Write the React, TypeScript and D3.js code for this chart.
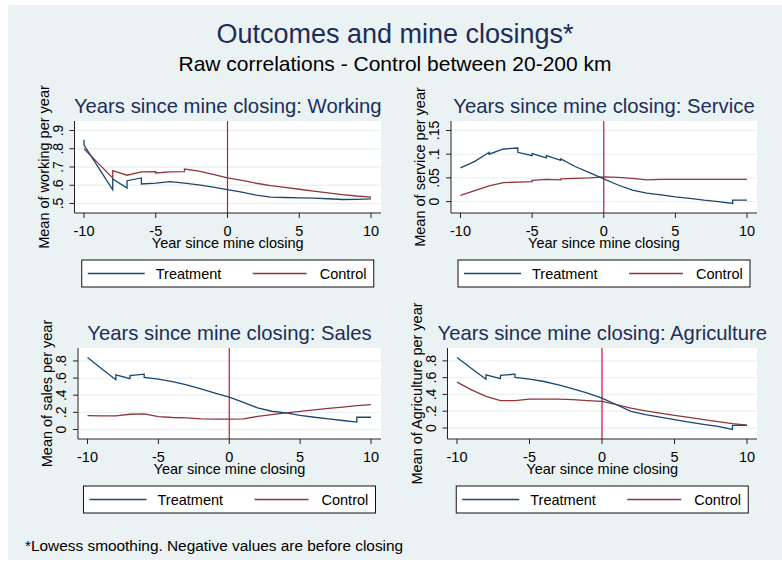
import * as d3 from 'd3';

// Lowess-smoothed means: [year since closing, value]
const years = [-10, -5, 0, 5, 10];

const workingTreatment: [number, number][] = [
  [-10, 0.85], [-10, 0.82], [-9, 0.698], [-8, 0.575], [-8, 0.635], [-7, 0.585], [-7, 0.625],
  [-6, 0.64], [-6, 0.607], [-5, 0.612], [-4, 0.62], [-3, 0.612], [-2, 0.602], [-1, 0.59],
  [0, 0.576], [1, 0.562], [2, 0.546], [3, 0.535], [4, 0.533], [5, 0.531], [6, 0.529],
  [7, 0.526], [8, 0.522], [9, 0.523], [10, 0.525],
];
const workingControl: [number, number][] = [
  [-10, 0.8], [-9, 0.72], [-8, 0.64], [-8, 0.68], [-7, 0.655], [-6, 0.673], [-5, 0.675],
  [-5, 0.667], [-4, 0.673], [-3, 0.675], [-3, 0.689], [-2, 0.677], [-1, 0.66], [0, 0.641],
  [1, 0.627], [2, 0.611], [3, 0.598], [4, 0.588], [5, 0.578], [6, 0.568], [7, 0.558],
  [8, 0.549], [9, 0.541], [10, 0.535],
];

const serviceTreatment: [number, number][] = [
  [-10, 0.071], [-9, 0.085], [-8, 0.104], [-8, 0.1], [-7, 0.111], [-6, 0.113], [-6, 0.104],
  [-5, 0.097], [-5, 0.101], [-4, 0.092], [-4, 0.097], [-3, 0.087], [-3, 0.09], [-2, 0.074],
  [-1, 0.061], [0, 0.048], [1, 0.035], [2, 0.024], [3, 0.018], [4, 0.014], [5, 0.01],
  [6, 0.007], [7, 0.003], [8, 0.0], [9, -0.004], [9, 0.003], [10, 0.003],
];
const serviceControl: [number, number][] = [
  [-10, 0.013], [-9, 0.023], [-8, 0.033], [-7, 0.04], [-6, 0.041], [-5, 0.042], [-5, 0.045],
  [-4, 0.047], [-3, 0.046], [-3, 0.048], [-2, 0.049], [-1, 0.05], [0, 0.052], [1, 0.051],
  [2, 0.049], [3, 0.046], [4, 0.047], [5, 0.047], [6, 0.047], [7, 0.047], [8, 0.047],
  [9, 0.047], [10, 0.047],
];

const salesTreatment: [number, number][] = [
  [-10, 0.84], [-9, 0.71], [-8, 0.58], [-8, 0.638], [-7, 0.593], [-7, 0.628], [-6, 0.645],
  [-6, 0.607], [-5, 0.587], [-4, 0.558], [-3, 0.522], [-2, 0.475], [-1, 0.425], [0, 0.378],
  [1, 0.317], [2, 0.252], [3, 0.213], [4, 0.193], [5, 0.164], [6, 0.143], [7, 0.124],
  [8, 0.105], [9, 0.087], [9, 0.143], [10, 0.143],
];
const salesControl: [number, number][] = [
  [-10, 0.162], [-9, 0.158], [-8, 0.16], [-7, 0.178], [-6, 0.182], [-5, 0.15], [-4, 0.14],
  [-3, 0.135], [-2, 0.124], [-1, 0.122], [0, 0.122], [1, 0.124], [2, 0.152], [3, 0.173],
  [4, 0.193], [5, 0.212], [6, 0.23], [7, 0.246], [8, 0.262], [9, 0.278], [10, 0.29],
];

const agriTreatment: [number, number][] = [
  [-10, 0.84], [-9, 0.71], [-8, 0.58], [-8, 0.634], [-7, 0.588], [-7, 0.626], [-6, 0.642],
  [-6, 0.602], [-5, 0.582], [-4, 0.554], [-3, 0.515], [-2, 0.467], [-1, 0.416], [0, 0.356],
  [1, 0.277], [2, 0.198], [3, 0.158], [4, 0.129], [5, 0.099], [6, 0.071], [7, 0.044],
  [8, 0.018], [9, -0.018], [9, 0.032], [10, 0.032],
];
const agriControl: [number, number][] = [
  [-10, 0.547], [-9, 0.455], [-8, 0.376], [-7, 0.325], [-6, 0.327], [-5, 0.343], [-4, 0.345],
  [-3, 0.345], [-2, 0.338], [-1, 0.326], [0, 0.317], [1, 0.278], [2, 0.238], [3, 0.205],
  [4, 0.178], [5, 0.151], [6, 0.126], [7, 0.1], [8, 0.075], [9, 0.051], [10, 0.033],
];

const workingTicks = [0.5, 0.6, 0.7, 0.8, 0.9];
const serviceTicks = [0, 0.05, 0.1, 0.15];
const shareTicks = [0, 0.2, 0.4, 0.6, 0.8];

const panels = [
  { title: 'Years since mine closing: Working', yLabel: 'Mean of working per year', treat: workingTreatment, ctrl: workingControl, ticks: workingTicks },
  { title: 'Years since mine closing: Service', yLabel: 'Mean of service per year', treat: serviceTreatment, ctrl: serviceControl, ticks: serviceTicks },
  { title: 'Years since mine closing: Sales', yLabel: 'Mean of sales per year', treat: salesTreatment, ctrl: salesControl, ticks: shareTicks },
  { title: 'Years since mine closing: Agriculture', yLabel: 'Mean of Agriculture per year', treat: agriTreatment, ctrl: agriControl, ticks: shareTicks },
];

// plot region boxes for the 2x2 grid
const boxes = [
  { left: 74.5, top: 121, right: 381, bottom: 213 },
  { left: 451, top: 121, right: 757, bottom: 213 },
  { left: 78, top: 348, right: 381, bottom: 439 },
  { left: 447.5, top: 348, right: 757, bottom: 439 },
];

const FONT = '"Liberation Sans", Arial, Helvetica, sans-serif';
const BG = '#eaf2f3';
const NAVY = '#1a476f';
const MAROON = '#90353b';
const TITLE = '#1c2d5a';

const fmt = (d: number) => (d === 0 ? '0' : d3.format('~g')(d).replace(/^0\./, '.'));

function Panel({ p, b }: { p: typeof panels[0]; b: typeof boxes[0] }) {
  const all = [...p.treat, ...p.ctrl].map(d => d[1]);
  const lo = Math.min(p.ticks[0], d3.min(all)!);
  const hi = Math.max(p.ticks[p.ticks.length - 1], d3.max(all)!);

  const x = d3.scaleLinear().domain([-10, 10]).range([b.left + 9.5, b.right - 10]);
  const y = d3.scaleLinear().domain([lo, hi]).range([b.bottom - 9.5, b.top + 9.5]);
  const line = d3.line<[number, number]>().x(d => x(d[0])).y(d => y(d[1]));

  const cx = (b.left + b.right) / 2;
  const cy = (b.top + b.bottom) / 2;
  const lx = cx - 146;
  const ly = b.bottom + 47;

  return (
    <g fontFamily={FONT}>
      <text x={cx} y={b.top - 8} textAnchor="middle" fontSize={20.3} fill={TITLE}>{p.title}</text>
      <rect x={b.left} y={b.top} width={b.right - b.left} height={b.bottom - b.top} fill="#fff" />
      {p.ticks.map(t => (
        <line key={t} x1={b.left} x2={b.right} y1={y(t)} y2={y(t)} stroke={BG} strokeWidth={1.3} />
      ))}
      <line x1={x(0)} x2={x(0)} y1={b.top} y2={b.bottom} stroke="#c4163c" strokeWidth={1.2} />
      <path d={line(p.ctrl)!} fill="none" stroke={MAROON} strokeWidth={1.3} />
      <path d={line(p.treat)!} fill="none" stroke={NAVY} strokeWidth={1.3} />

      {/* axes */}
      <line x1={b.left} x2={b.left} y1={b.top} y2={b.bottom} stroke="#222" strokeWidth={1} />
      <line x1={b.left} x2={b.right} y1={b.bottom} y2={b.bottom} stroke="#222" strokeWidth={1} />
      {p.ticks.map(t => (
        <g key={t}>
          <line x1={b.left - 5} x2={b.left} y1={y(t)} y2={y(t)} stroke="#222" />
          <text transform={`translate(${b.left - 12},${y(t)}) rotate(-90)`} textAnchor="middle" fontSize={14} fill="#000">{fmt(t)}</text>
        </g>
      ))}
      {years.map(t => (
        <g key={t}>
          <line x1={x(t)} x2={x(t)} y1={b.bottom} y2={b.bottom + 5} stroke="#222" />
          <text x={x(t)} y={b.bottom + 22.5} textAnchor="middle" fontSize={14.5} fill="#000">{t}</text>
        </g>
      ))}
      <text x={cx} y={b.bottom + 35} textAnchor="middle" fontSize={14.5} fill="#000">Year since mine closing</text>
      <text transform={`translate(${b.left - 26},${cy}) rotate(-90)`} textAnchor="middle" fontSize={14.5} fill="#000">{p.yLabel}</text>

      {/* legend */}
      <rect x={lx} y={ly} width={292} height={27} fill="#fff" stroke="#111" strokeWidth={1} />
      <line x1={lx + 6} x2={lx + 63} y1={ly + 13.5} y2={ly + 13.5} stroke={NAVY} strokeWidth={1.3} />
      <text x={lx + 74} y={ly + 18.5} fontSize={14.5} fill="#000">Treatment</text>
      <line x1={lx + 171} x2={lx + 225} y1={ly + 13.5} y2={ly + 13.5} stroke={MAROON} strokeWidth={1.3} />
      <text x={lx + 238} y={ly + 18.5} fontSize={14.5} fill="#000">Control</text>
    </g>
  );
}

export default function App() {
  return (
    <svg width={782} height={562} style={{ position: 'absolute', left: 0, top: 0 }}>
      <rect width={782} height={562} fill="#fff" />
      <rect x={8} y={5} width={774} height={555} fill={BG} />
      <text x={395} y={43} textAnchor="middle" fontFamily={FONT} fontSize={27} fill={TITLE}>Outcomes and mine closings*</text>
      <text x={395} y={71} textAnchor="middle" fontFamily={FONT} fontSize={21} fill="#000">Raw correlations - Control between 20-200 km</text>
      {panels.map((p, i) => <Panel key={p.title} p={p} b={boxes[i]} />)}
      <text x={25} y={551} fontFamily={FONT} fontSize={15.4} fill="#000">*Lowess smoothing. Negative values are before closing</text>
    </svg>
  );
}
